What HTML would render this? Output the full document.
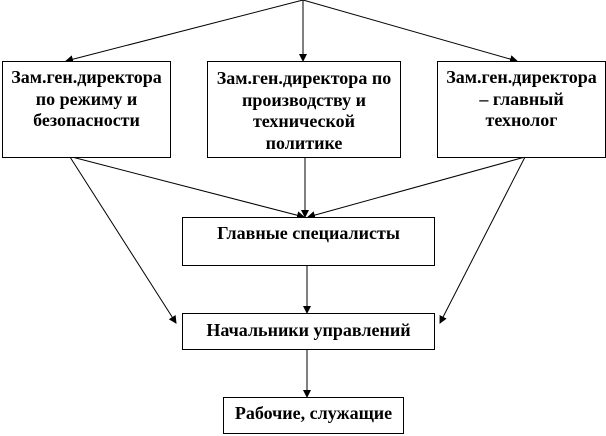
<!DOCTYPE html>
<html><head><meta charset="utf-8"><style>
html,body{margin:0;padding:0;background:#fff;width:606px;height:436px;overflow:hidden}
.b{position:absolute;border:1px solid #000;box-sizing:border-box;background:#fff;text-align:center;font:bold 18px/21.5px "Liberation Serif","DejaVu Serif",serif;color:#000;white-space:nowrap}
</style></head><body>
<svg width="606" height="436" style="position:absolute;left:0;top:0">
<defs><marker id="a" markerWidth="8" markerHeight="8" refX="7" refY="4" orient="auto" markerUnits="userSpaceOnUse"><path d="M0,0 L8,4 L0,8z" fill="#000"/></marker></defs>
<g stroke="#000" stroke-width="1" fill="none" marker-end="url(#a)">
<line x1="303" y1="0" x2="66" y2="61"/>
<line x1="303" y1="0" x2="303" y2="61"/>
<line x1="303" y1="0" x2="517" y2="61"/>
<line x1="72" y1="157" x2="304" y2="217"/>
<line x1="305" y1="157" x2="305" y2="217"/>
<line x1="525" y1="157" x2="308" y2="217"/>
<line x1="70" y1="157" x2="176" y2="323"/>
<line x1="525" y1="157" x2="440" y2="323"/>
<line x1="307" y1="266" x2="307" y2="313"/>
<line x1="307" y1="350" x2="307" y2="397"/>
</g></svg>
<div class="b" style="left:2px;top:61px;width:169px;height:97px;padding-top:5px">Зам.ген.директора<br>по режиму и<br>безопасности</div>
<div class="b" style="left:207px;top:61px;width:194px;height:97px;padding-top:6px">Зам.ген.директора по<br>производству и<br>технической<br>политике</div>
<div class="b" style="left:437px;top:61px;width:169px;height:97px;padding-top:5px">Зам.ген.директора<br>– главный<br>технолог</div>
<div class="b" style="left:182px;top:217px;width:253px;height:49px;padding-top:5px">Главные специалисты</div>
<div class="b" style="left:182px;top:313px;width:253px;height:37px;padding-top:6px">Начальники управлений</div>
<div class="b" style="left:223px;top:397px;width:181px;height:37px;padding-top:5px">Рабочие, служащие</div>
</body></html>
